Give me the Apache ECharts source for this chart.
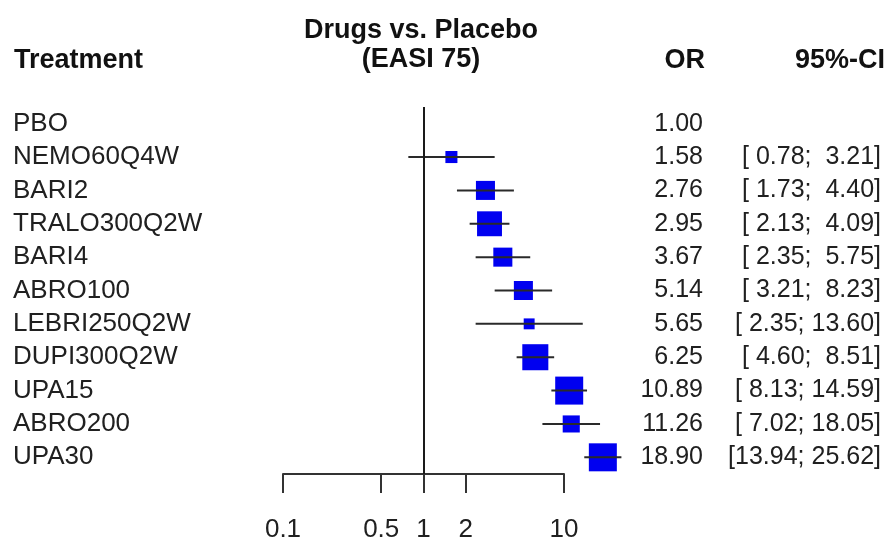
<!DOCTYPE html>
<html>
<head>
<meta charset="utf-8">
<script src="https://cdn.jsdelivr.net/npm/echarts@6/dist/echarts.min.js"></script>
<style>
  html, body { margin: 0; padding: 0; background: #fff; }
  #chart { width: 890px; height: 540px; }
</style>
</head>
<body>
<div id="chart"></div>
<script>
const treatments = ['PBO', 'NEMO60Q4W', 'BARI2', 'TRALO300Q2W', 'BARI4', 'ABRO100',
  'LEBRI250Q2W', 'DUPI300Q2W', 'UPA15', 'ABRO200', 'UPA30'];
const oddsRatios = [1.00, 1.58, 2.76, 2.95, 3.67, 5.14, 5.65, 6.25, 10.89, 11.26, 18.90];
const ciLower = [null, 0.78, 1.73, 2.13, 2.35, 3.21, 2.35, 4.60, 8.13, 7.02, 13.94];
const ciUpper = [null, 3.21, 4.40, 4.09, 5.75, 8.23, 13.60, 8.51, 14.59, 18.05, 25.62];
// relative weight of each comparison (drives square size)
const weights = [0, 0.43, 0.68, 0.89, 0.68, 0.68, 0.39, 0.93, 1.0, 0.61, 1.0];
const tickValues = [0.1, 0.5, 1, 2, 10];

const FONT = "'Liberation Sans', Arial, sans-serif";
const MAX_SQUARE = 28;

const fmtCI = (lo, hi) => {
  if (lo == null) return '';
  const pad = v => v.toFixed(2).padStart(5, ' ');
  return '[' + pad(lo) + '; ' + pad(hi) + ']';
};

const chart = echarts.init(document.getElementById('chart'));

const rows = treatments.map((t, i) => [oddsRatios[i], i, ciLower[i], ciUpper[i], weights[i]]);

const catAxis = {
  type: 'category',
  data: treatments,
  inverse: true,
  axisLine: { show: false },
  axisTick: { show: false },
  splitLine: { show: false }
};

const headStyle = { fontFamily: FONT, fontSize: 27, fontWeight: 'bold', color: '#111', lineHeight: 29 };

const option = {
  backgroundColor: '#fff',
  animation: false,
  title: [
    { text: 'Drugs vs. Placebo\n(EASI 75)', left: 421, top: 16, padding: 0, textAlign: 'center', textStyle: headStyle },
    { text: 'Treatment', left: 14, top: 46, padding: 0, textStyle: headStyle },
    { text: 'OR', right: 185, top: 46, padding: 0, textStyle: headStyle },
    { text: '95%-CI', right: 5, top: 46, padding: 0, textStyle: headStyle }
  ],
  grid: {
    left: 283, right: 326, top: 107, bottom: 66,
    containLabel: false,
    outerBoundsMode: 'none'
  },
  xAxis: {
    type: 'log',
    logBase: 10,
    min: 0.1,
    max: 10,
    axisLine: { show: true, lineStyle: { color: '#333', width: 2 } },
    axisTick: {
      show: true, inside: false, length: 19,
      customValues: tickValues,
      lineStyle: { color: '#333', width: 2 }
    },
    axisLabel: {
      customValues: tickValues,
      margin: 43,
      fontFamily: FONT, fontSize: 26, color: '#202020',
      formatter: v => String(Number(Number(v).toPrecision(2)))
    },
    splitLine: { show: false },
    minorTick: { show: false }
  },
  yAxis: [
    Object.assign({}, catAxis, {
      position: 'left',
      axisLabel: {
        interval: 0, align: 'left', margin: 270,
        fontFamily: FONT, fontSize: 26, color: '#202020'
      }
    }),
    Object.assign({}, catAxis, {
      position: 'right',
      offset: 139,
      axisLabel: {
        interval: 0, align: 'right', margin: 0,
        fontFamily: FONT, fontSize: 25, color: '#202020',
        formatter: (v, i) => oddsRatios[i].toFixed(2)
      }
    }),
    Object.assign({}, catAxis, {
      position: 'right',
      offset: 317,
      axisLabel: {
        interval: 0, align: 'right', margin: 0,
        fontFamily: FONT, fontSize: 25, color: '#202020',
        formatter: (v, i) => fmtCI(ciLower[i], ciUpper[i])
      }
    })
  ],
  series: [{
    type: 'custom',
    clip: false,
    data: rows,
    encode: { x: 0, y: 1 },
    renderItem: (params, api) => {
      const idx = api.value(1);
      const center = api.coord([api.value(0), idx]);
      const children = [];
      const w = api.value(4);
      if (w > 0) {
        const s = w * MAX_SQUARE;
        children.push({
          type: 'rect',
          shape: { x: center[0] - s / 2, y: center[1] - s / 2, width: s, height: s },
          style: { fill: '#0000f0' }
        });
      }
      const lo = api.value(2), hi = api.value(3);
      if (!isNaN(lo) && !isNaN(hi)) {
        const p1 = api.coord([lo, idx]);
        const p2 = api.coord([hi, idx]);
        children.push({
          type: 'line',
          shape: { x1: p1[0], y1: p1[1], x2: p2[0], y2: p2[1] },
          style: { stroke: '#2a2a2a', lineWidth: 2 }
        });
      }
      return { type: 'group', children };
    },
    markLine: {
      silent: true,
      symbol: 'none',
      label: { show: false },
      lineStyle: { color: '#1a1a1a', width: 2, type: 'solid' },
      data: [{ xAxis: 1 }]
    }
  }]
};

chart.setOption(option);
</script>
</body>
</html>
